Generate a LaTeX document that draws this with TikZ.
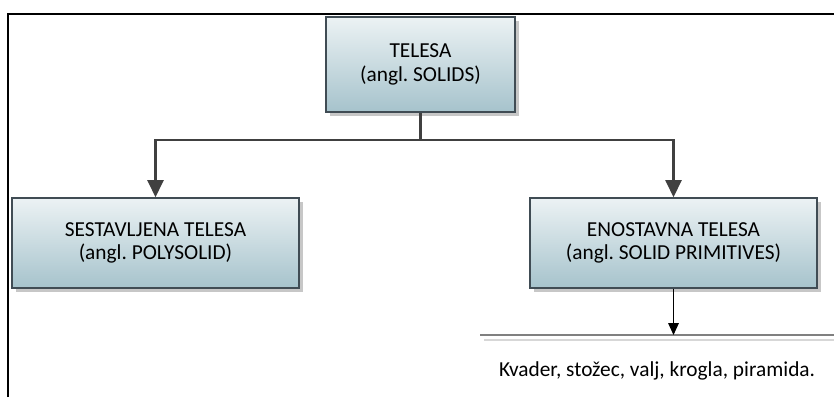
\documentclass[tikz,border=0pt]{standalone}
\usepackage{fontspec}
\setmainfont{Carlito}
\usetikzlibrary{arrows.meta,shadows}
\frenchspacing

\definecolor{boxtop}{RGB}{236,242,244}
\definecolor{boxbottom}{RGB}{166,195,204}
\definecolor{boxline}{RGB}{64,76,84}
\definecolor{linkgray}{RGB}{64,64,64}

\tikzset{
	every picture/.style={line width=0.75pt},
	classbox/.style={draw=boxline, line width=1pt, top color=boxtop, bottom color=boxbottom,
		minimum width=287*0.75pt, minimum height=90*0.75pt, align=center, inner sep=0pt,
		font=\fontsize{16}{17.5}\selectfont,
		drop shadow={shadow xshift=3pt, shadow yshift=-3pt, fill=black!22, opacity=1}},
	branch/.style={draw=linkgray, line width=2pt, -{Triangle[width=12pt,length=13pt]}},
	leaf/.style={draw=black, line width=0.8pt, -{Triangle[width=8pt,length=9pt]}}
}

\begin{document}
\begin{tikzpicture}[x=0.75pt,y=0.75pt,yscale=-1,xscale=1]
	\useasboundingbox (0,0) rectangle (834,397);

	%Frame
	\draw [line width=2pt] (8,397) -- (8,14) -- (834,14);

	%Shape: Rectangle (top)
	\node [classbox, minimum width=189*0.75pt, minimum height=95*0.75pt] (solids) at (420.5,64.5) {TELESA\\(angl. SOLIDS)};
	%Shape: Rectangle (left)
	\node [classbox] (poly) at (155.5,243) {SESTAVLJENA TELESA\\(angl. POLYSOLID)};
	%Shape: Rectangle (right)
	\node [classbox] (prim) at (673.5,243) {ENOSTAVNA TELESA\\(angl. SOLID PRIMITIVES)};

	% Connectors
	\coordinate (fork) at (420.5,140);
	\draw [branch] (solids.south) -- (fork) -| (poly.north);
	\draw [branch] (fork) -| (prim.north);

	% List line
	\coordinate (listL) at (480,335);
	\coordinate (listR) at (834,335);
	\draw [draw={rgb, 255:red, 128; green, 128; blue, 128}, line width=1.5pt] (listL) -- (listR);
	\draw [draw={rgb, 255:red, 215; green, 215; blue, 215}, line width=1pt] (484,340) -- (listR |- 0,340);
	\draw [leaf] (prim.south) -- (prim.south |- listL);

	% Text Node
	\node [font=\fontsize{16}{19}\selectfont] (list) at (657,371) {Kvader, stožec, valj, krogla, piramida.};

\end{tikzpicture}
\end{document}
